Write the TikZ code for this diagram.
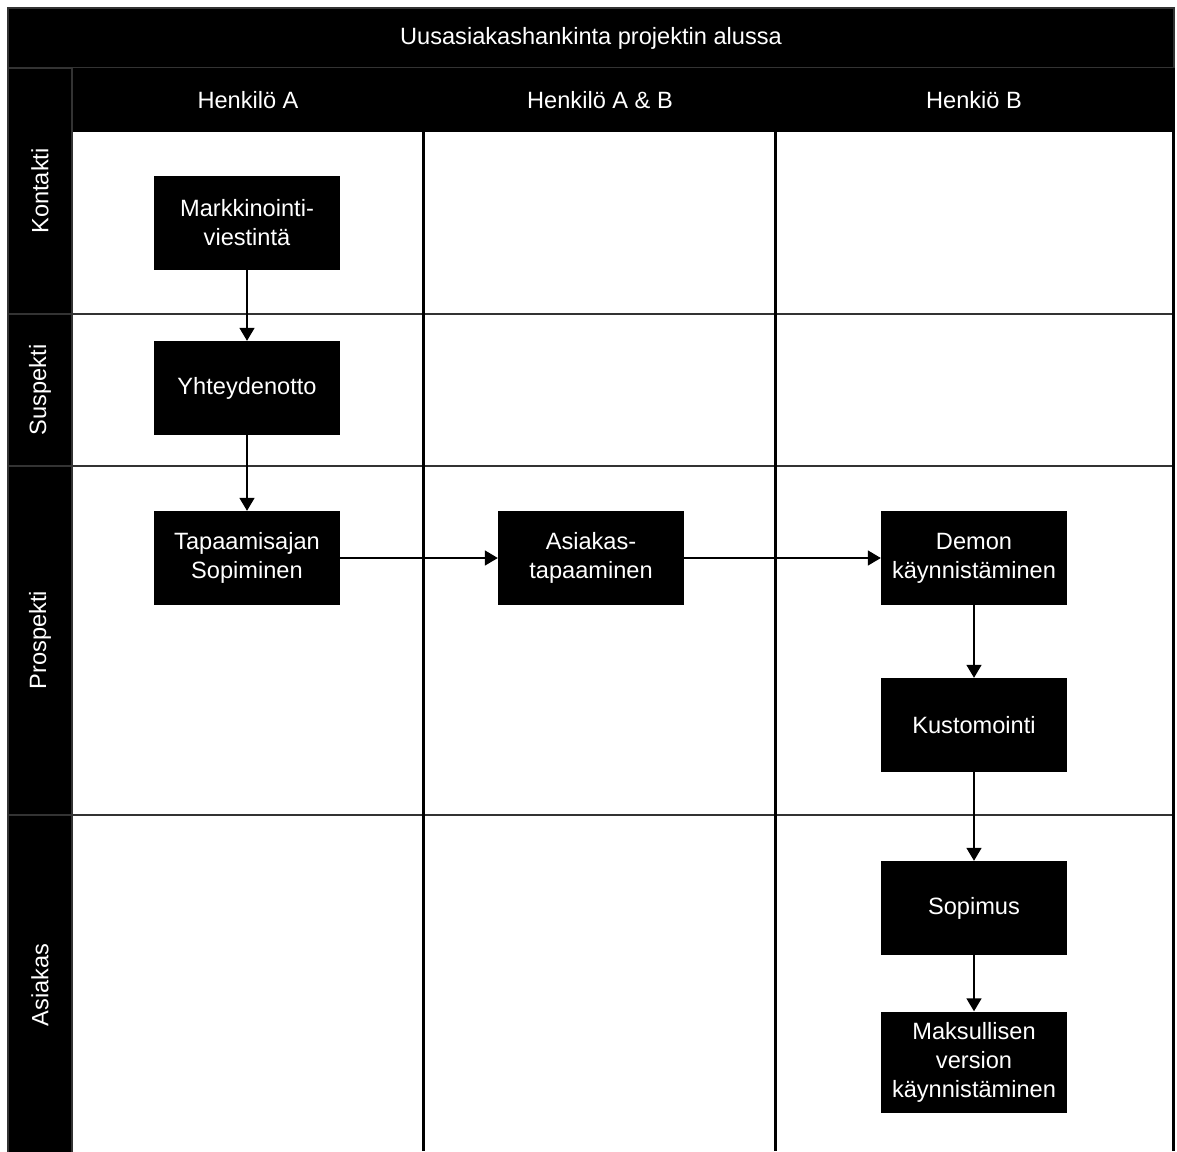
\documentclass[tikz,border=0pt]{standalone}
\usepackage{fontspec}
\setmainfont{Liberation Sans}
\usetikzlibrary{arrows.meta}
\usetikzlibrary{positioning}
\definecolor{gridgray}{HTML}{333333}
\tikzset{
	task/.style = {fill=black, text=white, align=center, minimum width=186pt, minimum height=94pt, inner sep=2pt},
	band/.style = {draw=gridgray, line width=2pt, fill=black},
	hdr/.style = {text=white},
	lanelabel/.style = {text=white, rotate=90},
	gridline/.style = {draw=gridgray, line width=2.5pt},
	colline/.style = {draw=black, line width=3pt},
	flow/.style = {-{Triangle[width=15pt,length=13pt]}, line width=1.6pt}
}

\begin{document}
\begin{tikzpicture}[x=1pt, y=-1pt, font=\fontsize{23.6}{29}\selectfont]
		\useasboundingbox (0,0) rectangle (1177,1151);
		%
		\draw[band] (8,8) rectangle (1174,68);
		\node (title)[hdr] at (591,38){Uusasiakashankinta projektin alussa};
		\fill[black] (72,68) rectangle (1173,132);
		\node (colA)[hdr] at (248,100){Henkilö A};
		\node (colAB)[hdr] at (600,100){Henkilö A \& B};
		\node (colB)[hdr] at (974,100){Henkiö B};
		%
		\draw[gridline] (72,314) -- (1173,314);
		\draw[gridline] (72,466) -- (1173,466);
		\draw[gridline] (72,815) -- (1173,815);
		\draw[colline] (423,132) -- (423,1151);
		\draw[colline] (775,132) -- (775,1151);
		\draw[colline] (1173,68) -- (1173,1151);
		%
		\draw[band] (8,68) rectangle (72,1162);
		\draw[gridgray, line width=2pt] (8,314) -- (72,314);
		\draw[gridgray, line width=2pt] (8,466) -- (72,466);
		\draw[gridgray, line width=2pt] (8,815) -- (72,815);
		\node (kontakti)[lanelabel] at (40,191){Kontakti};
		\node (suspekti)[lanelabel] at (40,390){Suspekti};
		\node (prospekti)[lanelabel] at (40,640){Prospekti};
		\node (asiakas)[lanelabel] at (40,985){Asiakas};
		%
		\node (markk)[task] at (247,223){Markkinointi-\\viestintä};
		\node (yhteys)[task] at (247,388){Yhteydenotto};
		\node (tapaam)[task] at (247,558){Tapaamisajan\\Sopiminen};
		\node (asiakast)[task] at (591,558){Asiakas-\\tapaaminen};
		\node (demo)[task] at (974,558){Demon\\käynnistäminen};
		\node (kustom)[task] at (974,725){Kustomointi};
		\node (sopimus)[task] at (974,908){Sopimus};
		\node (maksu)[task, minimum height=101pt] at (974,1062){Maksullisen\\version\\käynnistäminen};
		%
		\draw[flow] (markk) -- (yhteys);
		\draw[flow] (yhteys) -- (tapaam);
		\draw[flow] (tapaam) -- (asiakast);
		\draw[flow] (asiakast) -- (demo);
		\draw[flow] (demo) -- (kustom);
		\draw[flow] (kustom) -- (sopimus);
		\draw[flow] (sopimus) -- (maksu);
	\end{tikzpicture}
\end{document}
